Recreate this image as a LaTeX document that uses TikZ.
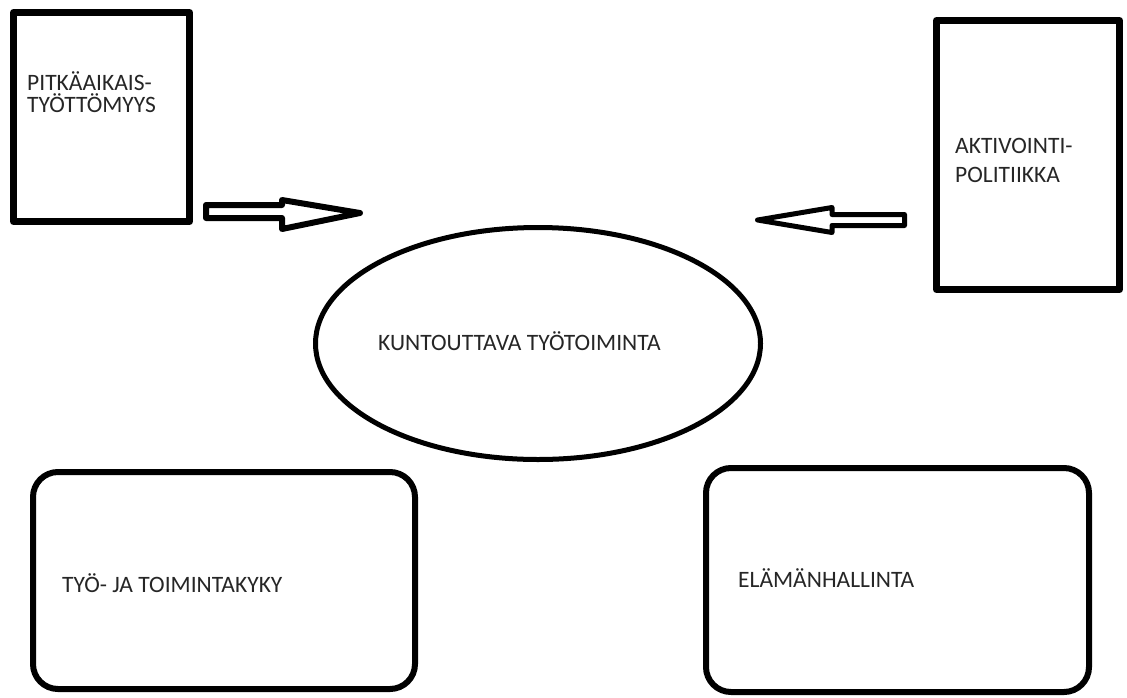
\documentclass[tikz,border=0pt]{standalone}
\usepackage{fontspec}
\setmainfont{Carlito}
\usetikzlibrary{shapes.geometric}

\begin{document}
\begin{tikzpicture}
  [x=1pt,y=-1pt,line join=round,
   every node/.style={inner sep=0pt,text=black!85,font=\fontsize{23.5}{22}\selectfont},
   sqbox/.style={draw,line width=7pt,rectangle},
   rndbox/.style={draw,line width=6pt,rectangle,rounded corners=25pt},
   label/.style={anchor=base west,align=left}]
  \useasboundingbox (0,0) rectangle (1127,697);
  \fill[white] (0,0) rectangle (1127,697);
  % shapes
  \node[sqbox,minimum width=176pt,minimum height=209pt] (pitka) at (101.5,117) {};
  \node[sqbox,minimum width=183pt,minimum height=269pt] (aktiv) at (1028,155) {};
  \node[draw,ellipse,line width=5pt,minimum width=445pt,minimum height=232pt] (kunto) at (538,343.5) {};
  \node[rndbox,minimum width=382pt,minimum height=217pt] (tyokyky) at (224,580.5) {};
  \node[rndbox,minimum width=383pt,minimum height=224pt] (elama) at (897.5,580) {};
  % texts (base = last line)
  \node[label] (pitkatxt) at (27,112) {PITK\"AAIKAIS-\\TY\"OTT\"OMYYS};
  \node[label,font=\fontsize{23.5}{29}\selectfont] (aktivtxt) at (955,182) {AKTIVOINTI-\\POLITIIKKA};
  \node[label] (kuntotxt) at (378,350) {KUNTOUTTAVA TY\"OTOIMINTA};
  \node[label] (kykytxt) at (62,592) {TY\"O- JA TOIMINTAKYKY};
  \node[label] (elamatxt) at (738,587) {EL\"AM\"ANHALLINTA};
  % arrows
  \draw[line width=6pt] (206,205) -- (282,205) -- (282,200) -- (360,213)
    -- (282,229) -- (282,218) -- (206,218) -- cycle;
  \draw[line width=5pt] (904.5,214.5) -- (832,214.5) -- (832,207.5) -- (757.5,220)
    -- (832,232.5) -- (832,225.5) -- (904.5,225.5) -- cycle;
\end{tikzpicture}
\end{document}
